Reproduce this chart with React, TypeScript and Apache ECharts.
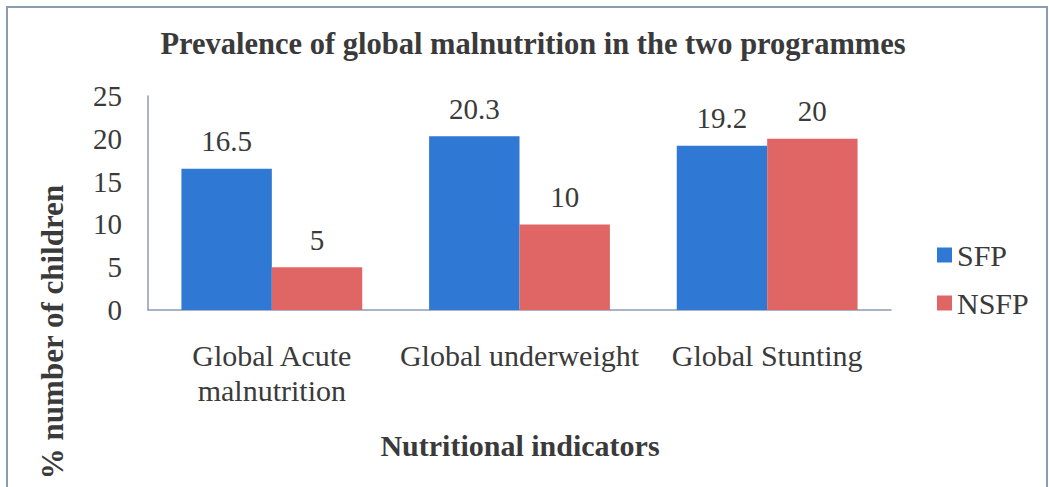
import React, { useEffect, useRef } from "react";
import * as echarts from "echarts";

const categories = ["Global Acute\nmalnutrition", "Global underweight", "Global Stunting"];
const sfpValues = [16.5, 20.3, 19.2];
const nsfpValues = [5, 10, 20];
const seriesNames = ["SFP", "NSFP"];

const FONT = "Liberation Serif";

export default function App() {
  const ref = useRef<HTMLDivElement>(null);
  useEffect(() => {
    const chart = echarts.init(ref.current!, null, { renderer: "svg" });
    const txt = { fontFamily: FONT, fontSize: 29, color: "#3a3a3a", fontWeight: "normal" };
    chart.setOption({
      animation: false,
      backgroundColor: "#ffffff",
      textStyle: { fontFamily: FONT },
      title: {
        text: "Prevalence of global malnutrition in the two programmes",
        left: 528,
        top: 23,
        textAlign: "center",
        textStyle: { fontFamily: FONT, fontSize: 30.5, fontWeight: "bold", color: "#3a3a3a" },
      },
      graphic: [
        {
          type: "rect",
          shape: { x: 7, y: 7, width: 1040, height: 495 },
          style: { fill: "none", stroke: "#8c9bb0", lineWidth: 2 },
          silent: true,
        },
        {
          type: "text",
          x: 52,
          y: 332,
          rotation: Math.PI / 2,
          style: {
            text: "% number of children",
            fontFamily: FONT,
            fontSize: 31,
            fontWeight: "bold",
            fill: "#3a3a3a",
            textAlign: "center",
            textVerticalAlign: "middle",
          },
        },
        {
          type: "text",
          x: 520,
          y: 445,
          style: {
            text: "Nutritional indicators",
            fontFamily: FONT,
            fontSize: 30,
            fontWeight: "bold",
            fill: "#3a3a3a",
            textAlign: "center",
            textVerticalAlign: "middle",
          },
        },
      ],
      legend: {
        orient: "vertical",
        left: 932,
        top: 235,
        itemWidth: 15,
        itemHeight: 15,
        itemGap: 18,
        icon: "rect",
        data: seriesNames,
        textStyle: { ...txt, fontSize: 30, padding: [0, 0, 0, 0] },
      },
      grid: { left: 148, right: 158, top: 96, bottom: 177 },
      xAxis: {
        type: "category",
        data: categories,
        axisLine: { lineStyle: { color: "#8c9bb0", width: 1.5 } },
        axisTick: { show: false },
        axisLabel: { ...txt, fontSize: 30, margin: 28, lineHeight: 35, interval: 0 },
      },
      yAxis: {
        type: "value",
        min: 0,
        max: 25,
        interval: 5,
        splitLine: { show: false },
        axisLine: { show: true, lineStyle: { color: "#8c9bb0", width: 1.5 } },
        axisTick: { show: false },
        axisLabel: { ...txt, margin: 26 },
      },
      series: [
        {
          name: seriesNames[0],
          type: "bar",
          data: sfpValues,
          barGap: "0%",
          barCategoryGap: "27%",
          itemStyle: { color: "#2F78D4" },
          label: { show: true, position: "top", distance: 13, ...txt },
        },
        {
          name: seriesNames[1],
          type: "bar",
          data: nsfpValues,
          itemStyle: { color: "#E06666" },
          label: { show: true, position: "top", distance: 13, ...txt },
        },
      ],
    });
    return () => chart.dispose();
  }, []);
  return (
    <div
      ref={ref}
      style={{ position: "fixed", left: 0, top: 0, width: 1049, height: 487 }}
    />
  );
}
